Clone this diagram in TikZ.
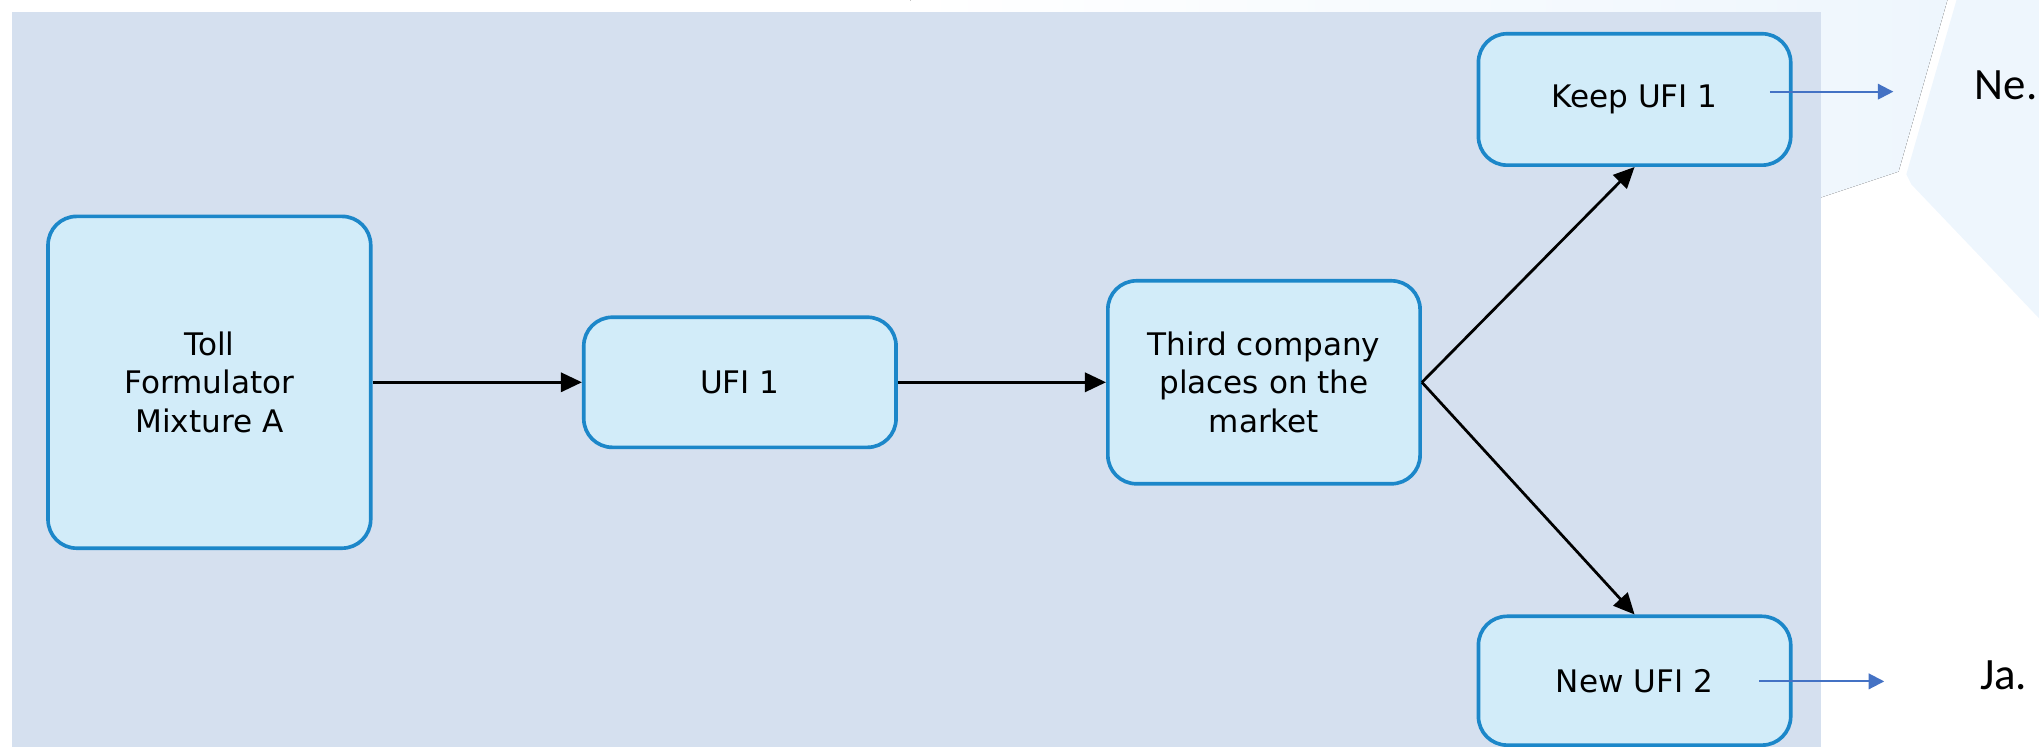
\documentclass[tikz,border=0pt]{standalone}
\usepackage{fontspec}
\setmainfont{DejaVu Sans}
\newfontfamily\notefont{Carlito}
\usetikzlibrary{arrows.meta}
\definecolor{panelbg}{HTML}{D5E0EF}
\definecolor{boxfill}{HTML}{D2ECF9}
\definecolor{boxline}{HTML}{1C87C9}
\definecolor{notebl}{HTML}{4472C4}
\definecolor{tint}{HTML}{EEF6FD}
\begin{document}
\begin{tikzpicture}[x=0.01cm,y=-0.01cm,
flowbox/.style={draw=boxline,fill=boxfill,line width=0.8pt,rounded corners=0.22cm,align=center,inner sep=0pt,font=\fontsize{6.8}{8.5}\selectfont,text=black},
flowarrow/.style={line width=0.6pt,-{Triangle[length=4.6pt,width=4.2pt]}},
notearrow/.style={notebl,line width=0.45pt,-{Triangle[length=3.4pt,width=3.4pt]}}]
\useasboundingbox(0,0)rectangle(1568,574);
% background
\fill[left color=white,right color=tint,draw=none](700,-5)--(1499,-5)--(1460,132)--(1400,152)--(700,152)--cycle;
\fill[tint](1506,-5)--(1573,-5)--(1573,250)--(1470,142)--(1466,134)--cycle;
\fill[panelbg](9,9)rectangle(1400,580);
%
\node[flowbox,minimum width=2.48cm,minimum height=2.55cm](toll)at(161,294){Toll\\Formulator\\Mixture A};
\node[flowbox,minimum width=2.4cm,minimum height=1cm](ufi)at(569,294){UFI 1};
\node[flowbox,minimum width=2.4cm,minimum height=1.56cm](third)at(972,294){Third company\\places on the\\market};
\node[flowbox,minimum width=2.4cm,minimum height=1.01cm](keep)at(1257,76.5){Keep UFI 1};
\node[flowbox,minimum width=2.4cm,minimum height=0.99cm](new)at(1257,523.5){New UFI 2};
%
\draw[flowarrow](toll.east)--(ufi.west);
\draw[flowarrow](ufi.east)--(third.west);
\draw[flowarrow](third.east)--(keep.south);
\draw[flowarrow](third.east)--(new.north);
%
\coordinate(neS)at(1361,70.5);
\coordinate(neE)at(1456,70.5);
\coordinate(jaS)at(1353,524);
\coordinate(jaE)at(1449,524);
\draw[notearrow](neS)--(neE);
\draw[notearrow](jaS)--(jaE);
\node[font=\notefont\fontsize{9.8}{12}\selectfont,anchor=base west,inner sep=0pt](ne)at(1518,76.4){Ne.};
\node[font=\notefont\fontsize{9.8}{12}\selectfont,anchor=base west,inner sep=0pt](ja)at(1522,530.6){Ja.};
\end{tikzpicture}
\end{document}
